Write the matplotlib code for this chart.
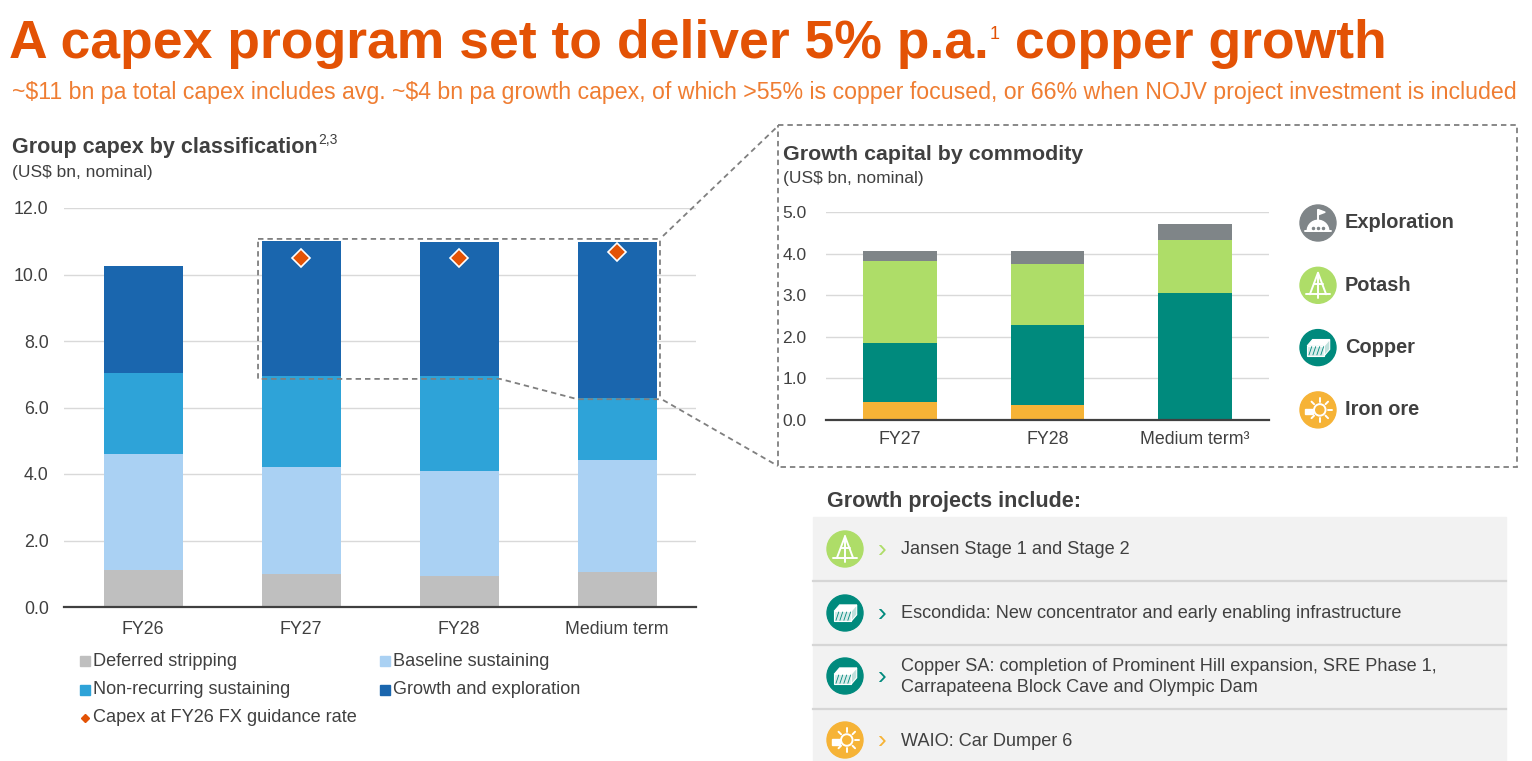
import matplotlib.pyplot as plt
import matplotlib.patches as mpatches
import numpy as np

plt.rcParams['font.family'] = ['Liberation Sans', 'DejaVu Sans']

# Group capex by classification (US$ bn)
periods = ['FY26', 'FY27', 'FY28', 'Medium term']
deferred = [1.10, 0.98, 0.92, 1.04]
baseline = [3.50, 3.23, 3.17, 3.37]
nonrecurring = [2.43, 2.75, 2.85, 1.87]
growth = [3.22, 4.05, 4.04, 4.70]
fx_capex = [np.nan, 10.49, 10.49, 10.69]
class_names = ['Deferred stripping', 'Baseline sustaining',
               'Non-recurring sustaining', 'Growth and exploration']
fx_name = 'Capex at FY26 FX guidance rate'

# Growth capital by commodity (US$ bn)
growth_periods = ['FY27', 'FY28', 'Medium term\u00b3']
iron_ore = [0.42, 0.34, 0.0]
copper = [1.42, 1.93, 3.04]
potash = [1.97, 1.47, 1.29]
exploration = [0.25, 0.31, 0.37]
commodities = ['Exploration', 'Potash', 'Copper', 'Iron ore']

projects = ['Jansen Stage 1 and Stage 2',
            'Escondida: New concentrator and early enabling infrastructure',
            'Copper SA: completion of Prominent Hill expansion, SRE Phase 1,\n'
            'Carrapateena Block Cave and Olympic Dam',
            'WAIO: Car Dumper 6']
project_kind = ['Potash', 'Copper', 'Copper', 'Iron ore']

ORANGE = '#E35205'
TXT = '#404040'
DASH = (0, (3, 2.2))
class_cols = ['#BFBFBF', '#AAD1F3', '#2EA3D8', '#1A66AE']
comm_cols = {'Exploration': '#7F8588', 'Potash': '#AEDD68',
             'Copper': '#008A7D', 'Iron ore': '#F6B336'}

W, H = 1532, 761
fig = plt.figure(figsize=(W / 100, H / 100), dpi=100)


def box(l, t, r, b):
    return [l / W, 1 - b / H, (r - l) / W, (b - t) / H]


def style_axis(ax):
    for s in ['top', 'right', 'left']:
        ax.spines[s].set_visible(False)
    ax.spines['bottom'].set_color('#404040')
    ax.spines['bottom'].set_linewidth(1.6)
    ax.spines['bottom'].set_zorder(3)
    ax.grid(axis='y', color='#d9d9d9', lw=1, zorder=0)
    ax.set_axisbelow(True)
    ax.tick_params(length=0, labelsize=12.8, colors=TXT)
    ax.tick_params(axis='y', pad=11)
    ax.tick_params(axis='x', pad=10)


# ---- left chart
ax1 = fig.add_axes(box(64, 208, 696, 607))
x = np.arange(len(periods))
bottom = np.zeros(len(periods))
for vals, col in zip([deferred, baseline, nonrecurring, growth], class_cols):
    ax1.bar(x, vals, 0.5, bottom=bottom, color=col, zorder=2)
    bottom += np.array(vals)
ax1.plot(x, fx_capex, 'D', ms=9, color=ORANGE, mec='white', mew=1.2, zorder=4)
ax1.set_xlim(-0.5, len(periods) - 0.5)
ax1.set_ylim(0, 12)
ax1.set_yticks(np.arange(0, 12.1, 2))
ax1.set_yticklabels([f'{v:.1f}' for v in np.arange(0, 12.1, 2)])
ax1.set_xticks(x)
ax1.set_xticklabels(periods)
style_axis(ax1)

# dashed outline round the growth segments FY27 onwards
gb = bottom - np.array(growth)
top = bottom[1:].max() + 0.06
lo = gb[1:3].min() - 0.08
xl, xr = 1 - 0.272, 3 + 0.272
outline_x = [xl, xr, xr, 3 - 0.25, 2 + 0.26, xl, xl]
outline_y = [top, top, gb[3] - 0.03, gb[3] - 0.03, lo, lo, top]
ax1.plot(outline_x, outline_y, color='#7f7f7f', lw=1.3, ls=DASH,
         zorder=5, clip_on=False)

# ---- right chart
ax2 = fig.add_axes(box(826, 212, 1269, 419.5))
x2 = np.arange(len(growth_periods))
bottom2 = np.zeros(len(growth_periods))
for name, vals in zip(['Iron ore', 'Copper', 'Potash', 'Exploration'],
                      [iron_ore, copper, potash, exploration]):
    ax2.bar(x2, vals, 0.5, bottom=bottom2, color=comm_cols[name], zorder=2)
    bottom2 += np.array(vals)
ax2.set_xlim(-0.5, len(growth_periods) - 0.5)
ax2.set_ylim(0, 5)
ax2.set_yticks(np.arange(0, 5.1, 1))
ax2.set_yticklabels([f'{v:.1f}' for v in np.arange(0, 5.1, 1)])
ax2.set_xticks(x2)
ax2.set_xticklabels(growth_periods)
style_axis(ax2)
ax2.tick_params(axis='y', labelsize=12.5, pad=14)
ax2.tick_params(axis='x', pad=8)

# ---- overlay in pixel coordinates for texts, boxes and icons
ov = fig.add_axes([0, 0, 1, 1])
ov.set_xlim(0, W)
ov.set_ylim(H, 0)
ov.axis('off')
rend = fig.canvas.get_renderer()


def sup_text(x, y, main, sup, size, sup_size, rise, **kw):
    t = ov.text(x, y, main, fontsize=size, va='baseline', **kw)
    bb = t.get_window_extent(renderer=rend)
    kw.pop('fontweight', None)
    s = ov.text(bb.x1 + 1, y - rise, sup, fontsize=sup_size, va='baseline', **kw)
    return s.get_window_extent(renderer=rend).x1


end = sup_text(9, 58, 'A capex program set to deliver 5% p.a.', '1', 38.5, 13, 19,
               color=ORANGE, fontweight='bold')
ov.text(end, 58, ' copper growth', fontsize=38.5, va='baseline',
        color=ORANGE, fontweight='bold')
ov.text(12, 99, r'~\$11 bn pa total capex includes avg. ~\$4 bn pa growth capex, '
        'of which >55% is copper focused, or 66% when NOJV project investment '
        'is included', fontsize=16.7, va='baseline', color='#EF7D32')

sup_text(12, 153, 'Group capex by classification', '2,3', 15.5, 10, 9,
         color=TXT, fontweight='bold')
ov.text(12, 177, '(US$ bn, nominal)', fontsize=12.5, va='baseline', color=TXT)
ov.text(783, 160, 'Growth capital by commodity', fontsize=15.4,
        va='baseline', color=TXT, fontweight='bold')
ov.text(783, 183, '(US$ bn, nominal)', fontsize=12.5, va='baseline', color=TXT)

# left legend
leg_pos = [(80, 661), (380, 661), (80, 690), (380, 690)]
for (lx, ly), name, col in zip(leg_pos, class_names, class_cols):
    ov.add_patch(mpatches.Rectangle((lx, ly - 5), 10, 10, color=col))
    ov.text(lx + 13, ly, name, fontsize=13.1, va='center', color=TXT)
ov.plot(85, 718, 'D', ms=4.5, color=ORANGE)
ov.text(93, 718, fx_name, fontsize=13.1, va='center', color=TXT)

# zoom box and connectors
ov.add_patch(mpatches.Rectangle((778, 125), 739, 342, fill=False,
                                ec='#7f7f7f', lw=1.3, ls=DASH))
ov.plot([663, 778], [236, 126], color='#7f7f7f', lw=1.3, ls=DASH)
ov.plot([663, 778], [400, 466], color='#7f7f7f', lw=1.3, ls=DASH)


def icon(cx, cy, r, kind):
    col = comm_cols[kind]
    ov.add_patch(mpatches.Circle((cx, cy), r, color=col, zorder=3))
    w = dict(color='white', lw=1.4, zorder=4, solid_capstyle='round')
    if kind == 'Exploration':
        ov.add_patch(mpatches.Wedge((cx, cy + 0.45 * r), 0.6 * r, 180, 360,
                                    color='white', zorder=4))
        ov.plot([cx - 0.7 * r, cx + 0.7 * r], [cy + 0.45 * r] * 2, **w)
        ov.plot([cx, cx], [cy - 0.15 * r, cy - 0.75 * r], **w)
        ov.add_patch(mpatches.Polygon([(cx, cy - 0.75 * r),
                                       (cx + 0.4 * r, cy - 0.6 * r),
                                       (cx, cy - 0.45 * r)],
                                      color='white', zorder=4))
        for dx in (-0.3, 0, 0.3):
            ov.plot(cx + dx * r, cy + 0.3 * r, 'o', ms=1.5, color=col, zorder=5)
    elif kind == 'Potash':
        ov.plot([cx - 0.45 * r, cx, cx + 0.45 * r],
                [cy + 0.5 * r, cy - 0.7 * r, cy + 0.5 * r], **w)
        ov.plot([cx, cx], [cy - 0.7 * r, cy + 0.7 * r], **w)
        ov.plot([cx - 0.65 * r, cx + 0.65 * r], [cy + 0.5 * r] * 2, **w)
        ov.plot([cx - 0.25 * r, cx + 0.25 * r], [cy - 0.05 * r] * 2, **w)
    elif kind == 'Copper':
        front = [(cx - 0.6 * r, cy - 0.1 * r), (cx + 0.35 * r, cy - 0.1 * r),
                 (cx + 0.35 * r, cy + 0.45 * r), (cx - 0.6 * r, cy + 0.45 * r)]
        topf = [(cx - 0.6 * r, cy - 0.1 * r), (cx - 0.3 * r, cy - 0.45 * r),
                (cx + 0.65 * r, cy - 0.45 * r), (cx + 0.35 * r, cy - 0.1 * r)]
        side = [(cx + 0.35 * r, cy - 0.1 * r), (cx + 0.65 * r, cy - 0.45 * r),
                (cx + 0.65 * r, cy + 0.1 * r), (cx + 0.35 * r, cy + 0.45 * r)]
        for poly, fc in ((front, '#d8ecea'), (topf, 'white'), (side, '#bfe0dc')):
            ov.add_patch(mpatches.Polygon(poly, fc=fc, ec='white', lw=0.8,
                                          zorder=4))
        for k in range(4):
            x0 = cx - 0.5 * r + k * 0.22 * r
            ov.plot([x0, x0 + 0.15 * r], [cy + 0.4 * r, cy - 0.05 * r],
                    color=col, lw=0.6, zorder=5)
    else:
        ov.add_patch(mpatches.Circle((cx + 0.1 * r, cy), 0.32 * r, fill=False,
                                     ec='white', lw=1.4, zorder=4))
        for a in np.linspace(0, 2 * np.pi, 9)[:-1]:
            ov.plot([cx + 0.1 * r + 0.45 * r * np.cos(a),
                     cx + 0.1 * r + 0.65 * r * np.cos(a)],
                    [cy + 0.45 * r * np.sin(a), cy + 0.65 * r * np.sin(a)], **w)
        ov.add_patch(mpatches.Rectangle((cx - 0.75 * r, cy - 0.05 * r),
                                        0.45 * r, 0.3 * r, color='white',
                                        zorder=4))


# right legend
for i, name in enumerate(commodities):
    cy = 223 + i * 62.3
    icon(1318, cy, 18, name)
    ov.text(1345, cy, name, fontsize=14.4, va='center', color=TXT,
            fontweight='bold')

# growth projects list
ov.text(827, 507, 'Growth projects include:', fontsize=15.5, va='baseline',
        color=TXT, fontweight='bold')
ov.add_patch(mpatches.Rectangle((813, 517), 693, 250, color='#f2f2f2',
                                zorder=1))
row_y = [550, 614, 677, 741]
for yy in [580.5, 644.5, 708.5]:
    ov.plot([813, 1506], [yy, yy], color='#d6d6d6', lw=1.6, zorder=2)
for yy, name, kind in zip(row_y, projects, project_kind):
    icon(845, yy - 1, 18, kind)
    ov.text(882, yy, '\u203a', fontsize=19, va='center', ha='center',
            color=comm_cols[kind], zorder=3)
    ov.text(901, yy, name, fontsize=13.1, va='center', color=TXT,
            linespacing=1.25, zorder=3)

fig.savefig('out.png', dpi=100)
